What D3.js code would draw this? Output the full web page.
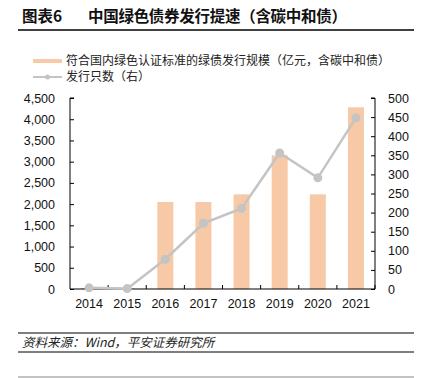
<!DOCTYPE html>
<html>
<head>
<meta charset="utf-8">
<script src="https://cdn.jsdelivr.net/npm/d3@7"></script>
<style>
  body { margin: 0; background: #fff; }
  svg { display: block; font-family: "Liberation Sans", Arial, "Noto Sans CJK SC", sans-serif; }
  .cjk { font-family: "Noto Sans CJK SC", sans-serif; }
</style>
</head>
<body>
<div id="chart"></div>
<script>
let years = ['2014', '2015', '2016', '2017', '2018', '2019', '2020', '2021'];
/* 亿元 */
let scale = [20, 10, 2050, 2050, 2230, 3150, 2230, 4280];
/* 只数 */
let counts = [3, 1, 78, 172, 211, 356, 291, 448];
let leftTicks = [0, 500, 1000, 1500, 2000, 2500, 3000, 3500, 4000, 4500];
let rightTicks = [0, 50, 100, 150, 200, 250, 300, 350, 400, 450, 500];

let W = 422, H = 378;
let plot = {left: 70, right: 375, top: 98, bottom: 289};

let svg = d3.select('#chart').append('svg')
    .attr('width', W)
    .attr('height', H);

/* title block */
svg.append('text').attr('class', 'cjk')
    .attr('x', 22).attr('y', 22)
    .attr('font-size', 15.5).attr('font-weight', 'bold').attr('fill', '#111')
    .text('图表6');
svg.append('text').attr('class', 'cjk')
    .attr('x', 88).attr('y', 22)
    .attr('font-size', 15.5).attr('font-weight', 'bold').attr('fill', '#111')
    .attr('textLength', 259).attr('lengthAdjust', 'spacing')
    .text('中国绿色债券发行提速（含碳中和债）');
svg.append('line')
    .attr('x1', 18).attr('x2', 414).attr('y1', 30).attr('y2', 30)
    .attr('stroke', '#000').attr('stroke-width', 1.5);

let x = d3.scaleBand().domain(years).range([plot.left, plot.right]);
let cx = d => x(d) + x.bandwidth() / 2;

let yL = d3.scaleLinear().domain([0, 4500]).range([plot.bottom, plot.top]);
let yR = d3.scaleLinear().domain([0, 500]).range([plot.bottom, plot.top]);

let barColor = '#f7c9a6';
let lineColor = '#c4c4c4';

/* bars */
svg.append('g').selectAll('rect')
    .data(years)
    .join('rect')
    .attr('x', d => cx(d) - 8)
    .attr('width', 16)
    .attr('y', (d, i) => yL(scale[i]))
    .attr('height', (d, i) => plot.bottom - yL(scale[i]))
    .attr('fill', barColor);

/* axes, ticks pointing inward */
let axL = svg.append('g')
    .attr('transform', `translate(${plot.left},0)`)
    .call(d3.axisRight(yL).tickValues(leftTicks).tickSize(4));
axL.selectAll('text').remove();
axL.select('.domain').attr('d', `M4,${plot.top}H0V${plot.bottom}`);
svg.append('g').selectAll('text')
    .data(leftTicks)
    .join('text')
    .attr('x', plot.left - 15)
    .attr('y', d => yL(d) + 4.5)
    .attr('text-anchor', 'end')
    .attr('font-size', 12.5)
    .attr('fill', '#111')
    .text(d3.format(','));

let axR = svg.append('g')
    .attr('transform', `translate(${plot.right},0)`)
    .call(d3.axisLeft(yR).tickValues(rightTicks).tickSize(4));
axR.selectAll('text').remove();
axR.select('.domain').attr('d', `M-4,${plot.top}H0V${plot.bottom}`);
svg.append('g').selectAll('text')
    .data(rightTicks)
    .join('text')
    .attr('x', plot.right + 13)
    .attr('y', d => yR(d) + 4.5)
    .attr('font-size', 12.5)
    .attr('fill', '#111')
    .text(d => d);

/* x axis with ticks at category boundaries */
let xAxis = svg.append('g');
xAxis.append('line')
    .attr('x1', plot.left).attr('x2', plot.right)
    .attr('y1', plot.bottom).attr('y2', plot.bottom)
    .attr('stroke', '#000');
xAxis.selectAll('.xt')
    .data(years)
    .join('line')
    .attr('class', 'xt')
    .attr('x1', d => x(d) + x.step())
    .attr('x2', d => x(d) + x.step())
    .attr('y1', plot.bottom).attr('y2', plot.bottom - 4)
    .attr('stroke', '#000');
xAxis.selectAll('text')
    .data(years)
    .join('text')
    .attr('x', cx)
    .attr('y', plot.bottom + 19)
    .attr('text-anchor', 'middle')
    .attr('font-size', 12.5)
    .attr('fill', '#111')
    .text(d => d);
svg.selectAll('.domain, .tick line').attr('stroke', '#000');

/* line series on right axis */
let line = d3.line()
    .x((d, i) => cx(years[i]))
    .y(d => yR(d));
svg.append('path')
    .datum(counts)
    .attr('d', line)
    .attr('fill', 'none')
    .attr('stroke', lineColor)
    .attr('stroke-width', 2.5);
svg.append('g').selectAll('circle')
    .data(counts)
    .join('circle')
    .attr('cx', (d, i) => cx(years[i]))
    .attr('cy', d => yR(d))
    .attr('r', 4.5)
    .attr('fill', lineColor);

/* legend */
let lg = svg.append('g');
lg.append('line')
    .attr('x1', 33).attr('x2', 62).attr('y1', 61).attr('y2', 61)
    .attr('stroke', barColor).attr('stroke-width', 4);
lg.append('text').attr('class', 'cjk')
    .attr('x', 66).attr('y', 65)
    .attr('font-size', 12).attr('fill', '#222')
    .text('符合国内绿色认证标准的绿债发行规模（亿元，含碳中和债）');
lg.append('line')
    .attr('x1', 33).attr('x2', 62).attr('y1', 77).attr('y2', 77)
    .attr('stroke', lineColor).attr('stroke-width', 2);
lg.append('circle')
    .attr('cx', 47.5).attr('cy', 77).attr('r', 2.5)
    .attr('fill', lineColor);
lg.append('text').attr('class', 'cjk')
    .attr('x', 66).attr('y', 81)
    .attr('font-size', 12).attr('fill', '#222')
    .text('发行只数（右）');

/* source footer */
svg.append('line')
    .attr('x1', 18).attr('x2', 414).attr('y1', 333).attr('y2', 333)
    .attr('stroke', '#000').attr('stroke-width', 1.2);
svg.append('text').attr('class', 'cjk')
    .attr('x', 22).attr('y', 347)
    .attr('font-size', 12.5).attr('font-style', 'italic').attr('fill', '#222')
    .text('资料来源：Wind，平安证券研究所');
svg.append('line')
    .attr('x1', 18).attr('x2', 414).attr('y1', 352).attr('y2', 352)
    .attr('stroke', '#000').attr('stroke-width', 1.2);
svg.append('line')
    .attr('x1', 18).attr('x2', 414).attr('y1', 377).attr('y2', 377)
    .attr('stroke', '#888').attr('stroke-width', 1);
</script>
</body>
</html>
